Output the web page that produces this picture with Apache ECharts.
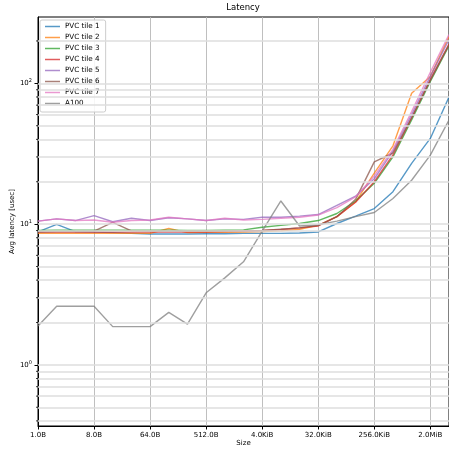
<!DOCTYPE html>
<html>
<head>
<meta charset="utf-8">
<script src="https://cdn.jsdelivr.net/npm/echarts@6/dist/echarts.min.js"></script>
<style>html,body{margin:0;padding:0;background:#fff;}#c{width:449px;height:449px;}</style>
</head>
<body>
<div id="c"></div>
<script>
const sizes = ['1.0B','2.0B','4.0B','8.0B','16.0B','32.0B','64.0B','128.0B','256.0B','512.0B',
  '1.0KiB','2.0KiB','4.0KiB','8.0KiB','16.0KiB','32.0KiB','64.0KiB','128.0KiB','256.0KiB','512.0KiB',
  '1.0MiB','2.0MiB','4.0MiB'];
const xTickLabels = ['1.0B','8.0B','64.0B','512.0B','4.0KiB','32.0KiB','256.0KiB','2.0MiB'];
const yMajorTicks = [1, 10, 100];
const yMinorGrid = [0.4,0.5,0.6,0.7,0.8,0.9,2,3,4,5,6,7,8,9,20,30,40,50,60,70,80,90,200];

const seriesNames = ['PVC tile 1','PVC tile 2','PVC tile 3','PVC tile 4','PVC tile 5','PVC tile 6','PVC tile 7','A100'];
const pvc1 = [8.8, 9.95, 8.85, 8.8, 8.7, 8.6, 8.5, 8.5, 8.5, 8.55, 8.55, 8.6, 8.6, 8.6, 8.65, 8.8, 10.1, 11.4, 12.9, 17.0, 27, 40.6, 80];
const pvc2 = [8.6, 8.6, 8.6, 8.6, 8.6, 8.6, 8.6, 9.3, 8.7, 8.75, 8.75, 8.8, 8.85, 8.95, 9.2, 9.8, 11.3, 14.4, 23, 36, 85, 112, 215];
const pvc3 = [9.0, 9.05, 9.05, 9.05, 9.05, 9.05, 9.05, 9.05, 9.0, 9.0, 9.05, 9.1, 9.5, 9.8, 10.1, 10.6, 11.9, 14.6, 19.5, 30, 55, 103, 185];
const pvc4 = [8.8, 8.8, 8.8, 8.8, 8.8, 8.8, 8.8, 8.8, 8.8, 8.8, 8.85, 8.9, 9.0, 9.15, 9.4, 9.7, 11.3, 14.3, 20, 31, 57, 107, 190];
const pvc5 = [10.5, 10.9, 10.6, 11.5, 10.4, 11.0, 10.6, 11.1, 10.9, 10.6, 10.9, 10.8, 11.2, 11.2, 11.4, 11.7, 13.6, 15.8, 21, 33, 60, 112, 205];
const pvc6 = [8.8, 8.85, 8.85, 8.9, 10.3, 8.95, 8.9, 8.9, 8.9, 8.9, 8.9, 8.95, 9.0, 9.2, 9.4, 9.8, 11.3, 15, 27.7, 32, 57, 105, 188];
const pvc7 = [10.5, 10.9, 10.6, 10.7, 10.3, 10.6, 10.7, 11.2, 10.9, 10.6, 11.0, 10.7, 10.8, 11.0, 11.2, 11.6, 13.1, 15.6, 22, 34, 63, 120, 222];
const a100 = [1.89, 2.61, 2.61, 2.61, 1.87, 1.87, 1.87, 2.36, 1.95, 3.25, 4.15, 5.4, 8.9, 14.6, 9.7, 9.9, 10.5, 11.3, 12.1, 15.2, 20.5, 30.9, 54.8];
const allData = [pvc1, pvc2, pvc3, pvc4, pvc5, pvc6, pvc7, a100];
const colors = ['#1f77b4','#ff7f0e','#2ca02c','#d62728','#9467bd','#8c564b','#e377c2','#7f7f7f'];

const FONT = 'DejaVu Sans';
const chart = echarts.init(document.getElementById('c'), null, {renderer: 'canvas'});

const series = [{
  type: 'line', name: '_grid', data: [], z: 1, silent: true,
  markLine: {
    silent: true, symbol: ['none','none'], animation: false,
    label: {show: false},
    lineStyle: {color: '#dedede', width: 1.5, type: 'solid'},
    emphasis: {disabled: true},
    data: yMinorGrid.concat(yMajorTicks).map(v => ({yAxis: v}))
  }
}, {
  // minor tick marks on the left spine, positioned through the log axis
  type: 'custom', name: '_minorTicks', silent: true, clip: false, z: 5,
  data: yMinorGrid.map(v => [0, v]),
  renderItem: (params, api) => {
    const p = api.coord([0, api.value(1)]);
    return {type: 'line', shape: {x1: p[0] - 2, y1: p[1], x2: p[0], y2: p[1]},
      style: {stroke: '#000', lineWidth: 0.8}};
  }
}];
seriesNames.forEach((n, i) => {
  series.push({
    type: 'line', name: n, data: allData[i], showSymbol: false, symbol: 'none',
    z: 3, animation: false,
    lineStyle: {color: colors[i], width: 1.4, opacity: 0.75},
    itemStyle: {color: colors[i], opacity: 0.75}
  });
});

chart.setOption({
  animation: false,
  color: colors,
  title: {
    text: 'Latency', left: 243, top: 3, textAlign: 'center', padding: 0,
    textStyle: {fontFamily: FONT, fontSize: 8.5, fontWeight: 'normal', color: '#000'}
  },
  legend: {
    data: seriesNames, orient: 'vertical', left: 40, top: 20,
    itemWidth: 15, itemHeight: 8, itemGap: 4,
    padding: [3, 6, 5, 5],
    borderColor: '#cccccc', borderWidth: 1, borderRadius: 2,
    backgroundColor: 'rgba(255,255,255,0.85)',
    textStyle: {fontFamily: FONT, fontSize: 7.2, color: '#000'},
    icon: 'path://M0,0L10,0L10,1L0,1Z',
    itemStyle: {opacity: 0.75}
  },
  grid: {left: 38, right: 0, top: 17, bottom: 23, show: true, borderColor: '#000', borderWidth: 1,
    containLabel: false, outerBoundsMode: 'none'},
  xAxis: {
    type: 'category', data: sizes, boundaryGap: false,
    name: 'Size', nameLocation: 'middle', nameGap: 14, nameMoveOverlap: false,
    nameTextStyle: {fontFamily: FONT, fontSize: 7, color: '#000'},
    axisLine: {lineStyle: {color: '#000', width: 1}},
    axisTick: {length: 3.5, lineStyle: {color: '#000'}, interval: (i, v) => xTickLabels.includes(v)},
    axisLabel: {interval: 0, margin: 6, fontFamily: FONT, fontSize: 7, color: '#000',
      formatter: v => xTickLabels.includes(v) ? v : ''},
    splitLine: {show: true, interval: (i, v) => xTickLabels.includes(v), lineStyle: {color: '#b8b8b8', width: 0.9}}
  },
  yAxis: {
    type: 'log', logBase: 10, min: 0.368, max: 296,
    name: 'Avg latency [usec]', nameLocation: 'middle', nameGap: 22, nameMoveOverlap: false,
    nameTextStyle: {fontFamily: FONT, fontSize: 7, color: '#000'},
    axisLine: {show: true, lineStyle: {color: '#000', width: 1}},
    axisTick: {show: true, length: 3.5, lineStyle: {color: '#000'}},
    splitLine: {show: false},
    axisLabel: {
      margin: 6, fontFamily: FONT, fontSize: 7, color: '#000',
      showMinLabel: false, showMaxLabel: false,
      formatter: v => {
        const e = Math.log10(v);
        if (Math.abs(e - Math.round(e)) > 1e-6) return '';
        return '10{sup|' + Math.round(e) + '}';
      },
      rich: {sup: {fontFamily: FONT, fontSize: 5, padding: [0, 0, 5, 0], color: '#000'}}
    }
  },
  series: series
});
</script>
</body>
</html>
